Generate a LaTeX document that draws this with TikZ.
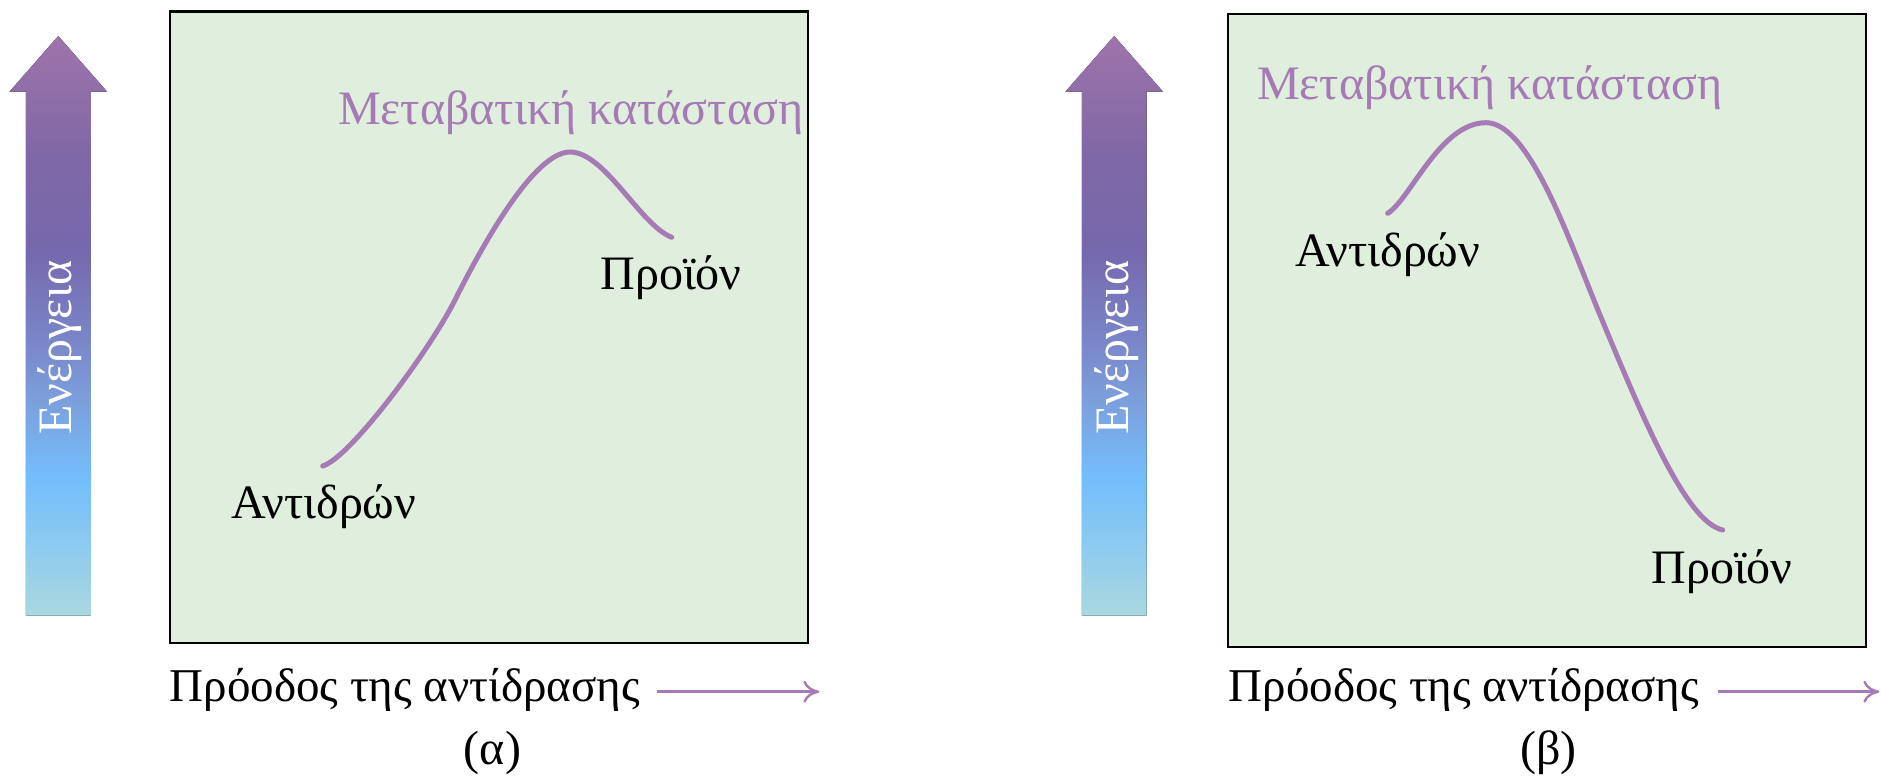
\documentclass[tikz,border=0pt]{standalone}
\usepackage{fontspec}
\setmainfont{Liberation Serif}
\usetikzlibrary{arrows.meta}

\definecolor{paneFill}{HTML}{DFEEDD}
\definecolor{curvePurple}{HTML}{A57AB5}
\definecolor{eA}{HTML}{A9D8E0}
\definecolor{eB}{HTML}{73BEFC}
\definecolor{eC}{HTML}{7C9FDC}
\definecolor{eD}{HTML}{7A82C6}
\definecolor{eE}{HTML}{7668AC}
\definecolor{eF}{HTML}{8068A6}
\definecolor{eG}{HTML}{9E74AA}

% energy axis: pale cyan at the bottom, through sky blue, to mauve at the tip
\pgfdeclareverticalshading{energyshade}{100bp}{%
  color(0bp)=(eA); color(25bp)=(eA); color(36.7bp)=(eB); color(43.6bp)=(eC);
  color(49.6bp)=(eD); color(56.5bp)=(eE); color(65bp)=(eF); color(75bp)=(eG);
  color(100bp)=(eG)}

\tikzset{
  panel/.style={fill=paneFill, draw=black, line width=1.15pt},
  energycurve/.style={draw=curvePurple, line width=2.5pt, line cap=round},
  lbl/.style={inner sep=0pt, anchor=base west, font=\fontsize{24}{28}\selectfont},
  tslbl/.style={lbl, text=curvePurple},
  energylbl/.style={lbl, rotate=90, text=white},
  axislbl/.style={lbl, font=\fontsize{23.5}{28}\selectfont},
  caplbl/.style={lbl, anchor=base},
  progarrow/.style={draw=curvePurple, line width=1.2pt,
    -{Computer Modern Rightarrow[length=8pt,width=11pt]}},
  energyarrow/.style={shading=energyshade, shading angle=0}
}

\begin{document}
\begin{tikzpicture}[x=0.5pt, y=-0.5pt]
\useasboundingbox (0,0) rectangle (1881,779);

% ---------------- panel (a): endothermic ----------------
\fill[energyarrow] (25.8,615.7) -- (25.8,91.7) -- (9.5,91.7) -- (58.3,36)
  -- (107.1,91.7) -- (90.8,91.7) -- (90.8,615.7) -- cycle;
\node[energylbl] (ena) at (71.7,435) {Ενέργεια};

\filldraw[panel] (170,11.5) rectangle (808.3,643.3);

\draw[energycurve] (322.7,466) .. controls (350,458) and (430,350) .. (455,300)
  .. controls (485,240) and (535,152) .. (570,152)
  .. controls (605,152) and (640,225) .. (671.7,237.3);

\node[tslbl] (tsa) at (337.7,125) {Μεταβατική κατάσταση};
\node[lbl] (reacta) at (231,518.3) {Αντιδρών};
\node[lbl] (proda) at (600,290) {Προϊόν};
\node[axislbl] (progra) at (169.3,701.7) {Πρόοδος της αντίδρασης};
\coordinate (pa-start) at (656.7,691.7);
\coordinate (pa-end) at (819.3,691.7);
\draw[progarrow] (pa-start) -- (pa-end);
\node[caplbl] (capa) at (492.5,765) {(α)};

% ---------------- panel (b): exothermic ----------------
\fill[energyarrow] (1081.9,615.7) -- (1081.9,91.7) -- (1065.4,91.7) -- (1114.2,36)
  -- (1163,91.7) -- (1146.7,91.7) -- (1146.7,615.7) -- cycle;
\node[energylbl] (enb) at (1128.3,435) {Ενέργεια};

\filldraw[panel] (1228.3,14) rectangle (1866,646.7);

\draw[energycurve] (1387.7,213.3) .. controls (1410,200) and (1440,122.7) .. (1486,122.7)
  .. controls (1530,122.7) and (1570,243) .. (1600,315)
  .. controls (1640,411) and (1685,522) .. (1722.7,530);

\node[tslbl] (tsb) at (1256.7,100) {Μεταβατική κατάσταση};
\node[lbl] (reactb) at (1295,266.7) {Αντιδρών};
\node[lbl] (prodb) at (1651,583.3) {Προϊόν};
\node[axislbl] (progrb) at (1228.3,701.7) {Πρόοδος της αντίδρασης};
\coordinate (pb-start) at (1717.7,691.7);
\coordinate (pb-end) at (1879.3,691.7);
\draw[progarrow] (pb-start) -- (pb-end);
\node[caplbl] (capb) at (1548.5,765) {(β)};
\end{tikzpicture}
\end{document}
